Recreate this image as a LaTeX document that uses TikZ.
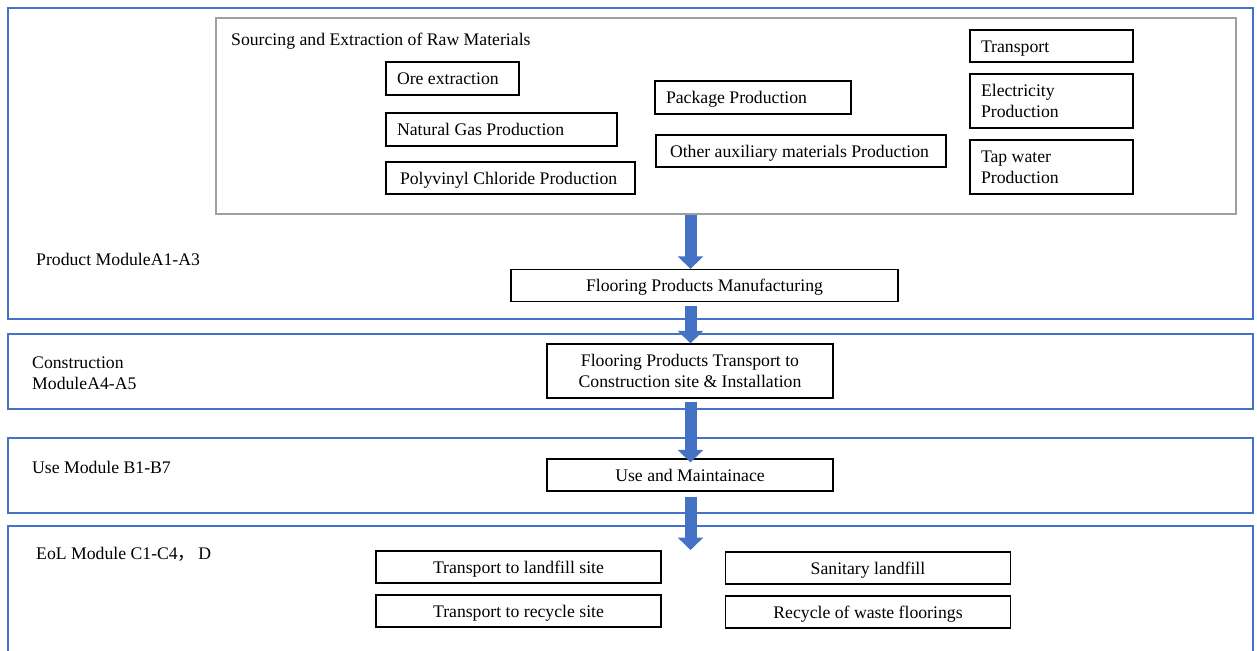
\documentclass[tikz,border=0pt]{standalone}
\usepackage{fontspec}
\setmainfont{Liberation Serif}
\newfontfamily\cjk{Noto Sans CJK SC}
\usetikzlibrary{arrows.meta}
\definecolor{modblue}{HTML}{4472C4}
\definecolor{grayline}{HTML}{A0A0A0}
\begin{document}
\begin{tikzpicture}[x=1pt,y=-1pt,
  font=\fontsize{17.7}{21}\selectfont,
  module/.style={draw=modblue, line width=2pt, inner sep=0pt},
  srcbox/.style={draw=grayline, line width=1.5pt, inner sep=0pt},
  multiitem/.style={draw=black, line width=1.3pt, inner sep=0pt, align=center},
  multilitem/.style={draw=black, line width=1.3pt, inner ysep=0pt, inner xsep=11pt, align=flush left},
  item/.style={multiitem, text height=13pt, text depth=0.5pt},
  litem/.style={multilitem, text height=13pt, text depth=0.5pt},
  lbl/.style={anchor=west, inner sep=0pt, align=flush left},
  barrow/.style={draw=modblue, line width=12pt, -{Triangle[width=25pt,length=12.5pt]}}
]
\useasboundingbox (0,0) rectangle (1257,650);
\clip (0,0) rectangle (1257,650);
\fill[white] (0,0) rectangle (1257,650);

% module boxes
\node[module, minimum width=1245pt, minimum height=311pt] (m1) at (630.5,163.5) {};
\node[module, minimum width=1245pt, minimum height=75pt] (m2) at (630.5,371.5) {};
\node[module, minimum width=1245pt, minimum height=75pt] (m3) at (630.5,475.5) {};
\node[module, minimum width=1245pt, minimum height=140pt] (m4) at (630.5,596) {};

% module labels
\node[lbl] (l1) at (36,259) {Product ModuleA1-A3};
\node[lbl] (l2) at (32,373.5) {Construction\\ModuleA4-A5};
\node[lbl] (l3) at (32,467) {Use Module B1-B7};
\node[lbl] (l4) at (36,554) {EoL Module C1-C4{\cjk ，}\,D};

% sourcing box
\node[srcbox, minimum width=1020pt, minimum height=196pt] (src) at (726,116) {};
\node[lbl] (srcl) at (231,41.5) {Sourcing and Extraction of Raw Materials};

\node[litem, text width=111pt, minimum height=33pt] (ore) at (452.5,78.5) {Ore extraction};
\node[litem, text width=209pt, minimum height=33pt] (gas) at (501.5,129.5) {Natural Gas Production};
\node[litem, inner xsep=14pt, text width=221pt, minimum height=32pt] (pvc) at (510.5,178) {Polyvinyl Chloride Production};
\node[litem, text width=174pt, minimum height=33pt] (pkg) at (753,97.5) {Package Production};
\node[litem, inner xsep=14pt, text width=262pt, minimum height=32pt] (aux) at (801,151) {Other auxiliary materials Production};
\node[litem, text width=141pt, minimum height=32pt] (tr) at (1051.5,46) {Transport};
\node[multilitem, text width=141pt, minimum height=54pt] (el) at (1051.5,101) {Electricity\\Production};
\node[multilitem, text width=141pt, minimum height=54pt] (tap) at (1051.5,167) {Tap water\\Production};

% process boxes
\node[item, minimum width=387pt, minimum height=32pt] (mfg) at (704.5,285.5) {Flooring Products Manufacturing};
\node[multiitem, minimum width=286pt, minimum height=54pt] (inst) at (690,371) {Flooring Products Transport to\\Construction site \& Installation};
\node[item, minimum width=286pt, minimum height=32pt] (use) at (690,475) {Use and Maintainace};
\node[item, minimum width=285pt, minimum height=32pt] (tl) at (518.5,567) {Transport to landfill site};
\node[item, minimum width=285pt, minimum height=32pt] (trc) at (518.5,611) {Transport to recycle site};
\node[item, minimum width=285pt, minimum height=32pt] (san) at (868,568) {Sanitary landfill};
\node[item, minimum width=285pt, minimum height=32pt] (rec) at (868,612) {Recycle of waste floorings};

% arrows
\coordinate (ax) at (690.5,0);
\coordinate (eolin) at (690.5,550);
\draw[barrow] (src.south -| ax) -- (mfg.north -| ax);
\draw[barrow, shorten <=4pt] (mfg.south -| ax) -- (inst.north -| ax);
\draw[barrow, shorten <=3pt, shorten >=-4pt] (inst.south -| ax) -- (use.north -| ax);
\draw[barrow, shorten <=5pt] (use.south -| ax) -- (eolin);
\end{tikzpicture}
\end{document}
